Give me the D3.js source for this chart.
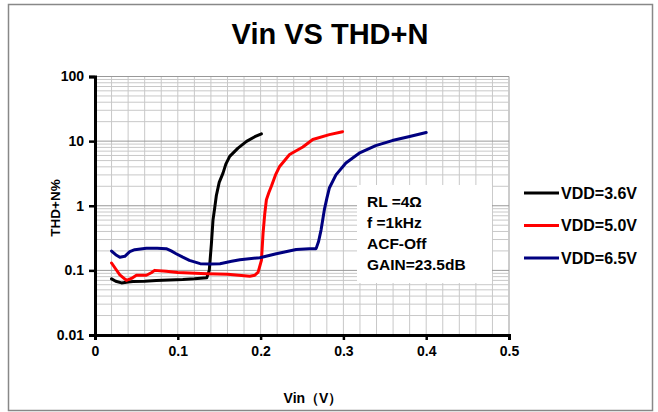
<!DOCTYPE html>
<html>
<head>
<meta charset="utf-8">
<script src="https://cdn.jsdelivr.net/npm/d3@7"></script>
<style>
  body { margin: 0; background: #fff; }
  text { font-family: "Liberation Sans", Arial, sans-serif; font-weight: bold; fill: #000; }
</style>
</head>
<body>
<div id="chart"></div>
<script>
// values
const vin36 = [0.020, 0.025, 0.032, 0.040, 0.046, 0.060, 0.074, 0.090, 0.106, 0.120, 0.135, 0.138, 0.1405, 0.1425, 0.1446, 0.1466, 0.150, 0.1546, 0.158, 0.1627, 0.1727, 0.183, 0.193, 0.201];
const thd36 = [0.074, 0.068, 0.064, 0.066, 0.067, 0.068, 0.070, 0.071, 0.072, 0.074, 0.077, 0.10, 0.25, 0.6, 0.93, 1.45, 2.3, 3.2, 4.4, 5.8, 7.8, 9.9, 11.7, 13];

const vin50 = [0.020, 0.025, 0.030, 0.038, 0.044, 0.050, 0.062, 0.068, 0.072, 0.086, 0.100, 0.114, 0.135, 0.160, 0.187, 0.193, 0.197, 0.201, 0.203, 0.205, 0.207, 0.210, 0.213, 0.218, 0.223, 0.235, 0.251, 0.263, 0.283, 0.299];
const thd50 = [0.130, 0.105, 0.085, 0.070, 0.075, 0.084, 0.084, 0.092, 0.100, 0.097, 0.093, 0.091, 0.089, 0.087, 0.081, 0.084, 0.094, 0.143, 0.38, 0.75, 1.24, 1.6, 2.0, 3.0, 4.06, 6.2, 8.1, 10.6, 12.6, 14];

const vin65 = [0.020, 0.025, 0.030, 0.036, 0.042, 0.048, 0.062, 0.075, 0.086, 0.092, 0.098, 0.106, 0.114, 0.127, 0.140, 0.151, 0.165, 0.175, 0.199, 0.219, 0.243, 0.259, 0.267, 0.270, 0.273, 0.277, 0.280, 0.283, 0.291, 0.303, 0.319, 0.339, 0.359, 0.380, 0.400];
const thd65 = [0.199, 0.175, 0.16, 0.165, 0.195, 0.209, 0.22, 0.22, 0.217, 0.20, 0.181, 0.16, 0.143, 0.127, 0.125, 0.127, 0.138, 0.146, 0.157, 0.181, 0.21, 0.217, 0.217, 0.28, 0.42, 0.87, 1.3, 1.88, 3.0, 4.6, 6.5, 8.5, 10.2, 11.8, 13.6];

const seriesNames = ["VDD=3.6V", "VDD=5.0V", "VDD=6.5V"];
const seriesColors = ["#000000", "#ff0000", "#000080"];
const xTicks = [0, 0.1, 0.2, 0.3, 0.4, 0.5];
const yTicks = [0.01, 0.1, 1, 10, 100];
const notes = ["RL =4\u03A9", "f =1kHz", "ACF-Off", "GAIN=23.5dB"];

const width = 658, height = 412;

const svg = d3.select("#chart").append("svg")
    .attr("width", width)
    .attr("height", height);

// outer frame
svg.append("rect")
    .attr("x", 8.5).attr("y", 4.5)
    .attr("width", 644).attr("height", 406)
    .attr("fill", "#fff")
    .attr("stroke", "#888")
    .attr("stroke-width", 1.5);

svg.append("text")
    .attr("x", 330).attr("y", 44)
    .attr("text-anchor", "middle")
    .style("font-size", "29px")
    .text("Vin VS THD+N");

const x = d3.scaleLinear().domain([0, 0.5]).range([95, 509]);
const y = d3.scaleLog().domain([0.01, 100]).range([335, 76.5]);

// grid
const grid = svg.append("g");
const xGrid = d3.range(0, 26).map(i => i * 0.02);
grid.selectAll(".vg").data(xGrid).enter().append("line")
    .attr("x1", d => x(d)).attr("x2", d => x(d))
    .attr("y1", y(100)).attr("y2", y(0.01))
    .attr("stroke", d => Math.abs(d - 0.5) < 1e-9 ? "#999" : "#c8c8c8")
    .attr("stroke-width", 1);

const yGrid = [];
for (let e = -2; e < 2; e++) for (let m = 1; m < 10; m++) yGrid.push(m * Math.pow(10, e));
yGrid.push(100);
grid.selectAll(".hg").data(yGrid).enter().append("line")
    .attr("x1", x(0)).attr("x2", x(0.5))
    .attr("y1", d => y(d)).attr("y2", d => y(d))
    .attr("stroke", d => yTicks.includes(d) ? "#999" : "#c8c8c8")
    .attr("stroke-width", 1);

// note box (covers grid)
svg.append("rect")
    .attr("x", 357).attr("y", 185)
    .attr("width", 135).attr("height", 98)
    .attr("fill", "#fff");
svg.selectAll(".note").data(notes).enter().append("text")
    .attr("x", 367)
    .attr("y", (d, i) => 207 + i * 21)
    .style("font-size", "15.5px")
    .text(d => d);

// curves
const line = d3.line()
    .x(d => x(d[0]))
    .y(d => y(d[1]));

const series = [
    d3.zip(vin36, thd36),
    d3.zip(vin50, thd50),
    d3.zip(vin65, thd65)
];

svg.selectAll(".curve").data(series).enter().append("path")
    .attr("d", line)
    .attr("fill", "none")
    .attr("stroke", (d, i) => seriesColors[i])
    .attr("stroke-width", 3)
    .attr("stroke-linejoin", "round")
    .attr("stroke-linecap", "round");

// axes
const xAxis = d3.axisBottom(x).tickValues(xTicks).tickSize(5).tickPadding(6)
    .tickFormat(d => d === 0 ? "0" : d3.format(".1f")(d));
const gx = svg.append("g").attr("transform", `translate(0,${y(0.01)})`).call(xAxis);
const yAxis = d3.axisLeft(y).tickValues(yTicks).tickSize(6).tickPadding(5)
    .tickFormat(d => String(d));
const gy = svg.append("g").attr("transform", `translate(${x(0)},0)`).call(yAxis);

[gx, gy].forEach(g => {
    g.select(".domain").attr("stroke", "#000").attr("stroke-width", 3);
    g.selectAll(".tick line").attr("stroke", "#000").attr("stroke-width", 2.5);
    g.selectAll(".tick text")
        .style("font-family", "'Liberation Sans', Arial, sans-serif")
        .style("font-weight", "bold")
        .style("font-size", "14px")
        .attr("fill", "#000");
});

svg.append("text")
    .attr("transform", "translate(60,208) rotate(-90)")
    .attr("text-anchor", "middle")
    .style("font-size", "13.5px")
    .text("THD+N%");

svg.append("text")
    .attr("x", 313).attr("y", 403)
    .attr("text-anchor", "middle")
    .style("font-size", "14px")
    .text("Vin\uFF08V\uFF09");

// legend
const legend = svg.append("g");
const legendY = [193, 225.5, 258];
seriesNames.forEach((name, i) => {
    legend.append("line")
        .attr("x1", 524).attr("x2", 559)
        .attr("y1", legendY[i]).attr("y2", legendY[i])
        .attr("stroke", seriesColors[i])
        .attr("stroke-width", 3);
    legend.append("text")
        .attr("x", 561).attr("y", legendY[i] + 5.5)
        .style("font-size", "16px")
        .text(name);
});
</script>
</body>
</html>
